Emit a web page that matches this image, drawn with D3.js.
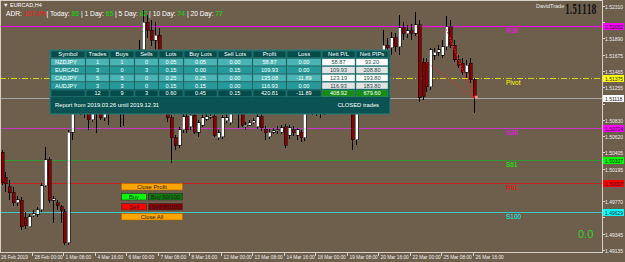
<!DOCTYPE html>
<html><head><meta charset="utf-8">
<script src="https://cdn.jsdelivr.net/npm/d3@7"></script>
<style>
html,body{margin:0;padding:0;background:#6e5e4c;}
svg{display:block;font-family:"Liberation Sans",Arial,sans-serif;}
</style></head><body>
<svg id="chart" width="625" height="262"></svg>
<script>
// EURCAD H4 candles, 26 Feb 16:00 .. 26 Mar 16:00
var opens = [1.5041,1.5008,1.4996,1.4989,1.4975,1.4978,1.4956,1.4944,1.4958,1.4960,
  1.4966,1.4997,1.5031,1.4978,1.4975,1.4970,1.4963,1.4923,1.5067,1.5109,
  1.5115,1.5102,1.5102,1.5083,1.5099,1.5104,1.5086,1.5101,1.5104,1.5112,
  1.5109,1.5099,1.5109,1.5119,1.5135,1.5154,1.5174,1.5210,1.5200,1.5187,
  1.5193,1.5161,1.5115,1.5086,1.5060,1.5050,1.5070,1.5087,1.5074,1.5089,
  1.5067,1.5076,1.5084,1.5087,1.5088,1.5060,1.5061,1.5082,1.5079,1.5096,
  1.5102,1.5102,1.5074,1.5076,1.5079,1.5074,1.5087,1.5071,1.5061,1.5067,
  1.5069,1.5067,1.5074,1.5063,1.5070,1.5063,1.5067,1.5060,1.5099,1.5109,
  1.5112,1.5106,1.5109,1.5112,1.5114,1.5109,1.5117,1.5112,1.5115,1.5109,
  1.5057,1.5109,1.5122,1.5135,1.5148,1.5158,1.5153,1.5166,1.5180,1.5177,
  1.5190,1.5178,1.5203,1.5195,1.5199,1.5196,1.5207,1.5158,1.5158,1.5126,
  1.5167,1.5171,1.5167,1.5178,1.5204,1.5180,1.5161,1.5157,1.5145,1.5157,
  1.5135];
var highs = [1.5044,1.5015,1.5005,1.4995,1.4984,1.4982,1.4963,1.4961,1.4966,1.4970,
  1.5001,1.5048,1.5035,1.4984,1.4979,1.4972,1.4967,1.5070,1.5115,1.5128,
  1.5122,1.5115,1.5109,1.5104,1.5109,1.5109,1.5109,1.5114,1.5119,1.5122,
  1.5115,1.5114,1.5128,1.5141,1.5161,1.5187,1.5226,1.5219,1.5213,1.5210,
  1.5203,1.5167,1.5122,1.5089,1.5063,1.5074,1.5092,1.5093,1.5099,1.5096,
  1.5083,1.5091,1.5093,1.5096,1.5093,1.5070,1.5089,1.5091,1.5102,1.5109,
  1.5112,1.5109,1.5080,1.5083,1.5086,1.5092,1.5092,1.5075,1.5071,1.5073,
  1.5075,1.5076,1.5078,1.5076,1.5075,1.5073,1.5070,1.5109,1.5115,1.5119,
  1.5117,1.5114,1.5115,1.5122,1.5119,1.5125,1.5122,1.5125,1.5122,1.5115,
  1.5115,1.5128,1.5141,1.5158,1.5167,1.5167,1.5174,1.5200,1.5190,1.5197,
  1.5196,1.5219,1.5210,1.5207,1.5208,1.5223,1.5213,1.5164,1.5164,1.5177,
  1.5177,1.5180,1.5187,1.5218,1.5213,1.5187,1.5167,1.5164,1.5161,1.5164,
  1.5138];
var lows = [1.4998,1.4989,1.4979,1.4971,1.4971,1.4940,1.4941,1.4943,1.4956,1.4957,
  1.4963,1.4995,1.4975,1.4949,1.4966,1.4949,1.4920,1.4920,1.5057,1.5093,
  1.5089,1.5086,1.5070,1.5080,1.5066,1.5083,1.5082,1.5076,1.5096,1.5099,
  1.5074,1.5075,1.5101,1.5109,1.5125,1.5148,1.5167,1.5190,1.5179,1.5174,
  1.5154,1.5109,1.5080,1.5027,1.5044,1.5047,1.5066,1.5066,1.5070,1.5065,
  1.5061,1.5074,1.5082,1.5084,1.5061,1.5057,1.5058,1.5079,1.5076,1.5091,
  1.5073,1.5074,1.5070,1.5075,1.5078,1.5071,1.5069,1.5057,1.5058,1.5065,
  1.5065,1.5065,1.5047,1.5058,1.5062,1.5057,1.5054,1.5056,1.5093,1.5089,
  1.5088,1.5086,1.5089,1.5104,1.5101,1.5104,1.5102,1.5101,1.5096,1.5044,
  1.5050,1.5102,1.5115,1.5125,1.5138,1.5141,1.5145,1.5161,1.5167,1.5167,
  1.5171,1.5167,1.5187,1.5190,1.5187,1.5192,1.5106,1.5109,1.5119,1.5122,
  1.5161,1.5166,1.5164,1.5174,1.5177,1.5158,1.5151,1.5141,1.5138,1.5131,
  1.5092];
var closes = [1.5001,1.5000,1.4988,1.4975,1.4979,1.4944,1.4945,1.4957,1.4961,1.4966,
  1.4997,1.5031,1.4978,1.4980,1.4971,1.4965,1.4923,1.5067,1.5109,1.5115,
  1.5102,1.5096,1.5083,1.5099,1.5093,1.5086,1.5101,1.5104,1.5112,1.5109,
  1.5099,1.5109,1.5119,1.5135,1.5154,1.5174,1.5210,1.5200,1.5187,1.5193,
  1.5161,1.5115,1.5086,1.5060,1.5050,1.5070,1.5087,1.5070,1.5089,1.5067,
  1.5079,1.5086,1.5087,1.5088,1.5063,1.5066,1.5086,1.5086,1.5096,1.5102,
  1.5099,1.5076,1.5076,1.5079,1.5082,1.5087,1.5073,1.5066,1.5067,1.5069,
  1.5070,1.5073,1.5050,1.5073,1.5066,1.5070,1.5060,1.5099,1.5109,1.5112,
  1.5106,1.5109,1.5112,1.5114,1.5109,1.5117,1.5112,1.5115,1.5109,1.5057,
  1.5109,1.5122,1.5135,1.5148,1.5158,1.5153,1.5164,1.5180,1.5177,1.5190,
  1.5178,1.5203,1.5195,1.5199,1.5196,1.5207,1.5112,1.5114,1.5126,1.5174,
  1.5171,1.5174,1.5178,1.5204,1.5180,1.5161,1.5154,1.5145,1.5154,1.5135,
  1.51118];

var timeTicks = [0, 8, 16, 24, 32, 40, 48, 56, 64, 72, 80, 88, 96, 104, 112, 120];
var timeLabels = ['26 Feb 2019', '28 Feb 00:00', '1 Mar 08:00', '4 Mar 16:00', '6 Mar 00:00',
  '7 Mar 08:00', '8 Mar 16:00', '12 Mar 00:00', '13 Mar 08:00', '14 Mar 16:00', '18 Mar 00:00',
  '19 Mar 08:00', '20 Mar 16:00', '22 Mar 00:00', '25 Mar 08:00', '26 Mar 16:00'];
var priceTicks = [1.52310, 1.52100, 1.51890, 1.51675, 1.51465, 1.51255, 1.51040, 1.50830,
  1.50620, 1.50405, 1.50195, 1.49980, 1.49770, 1.49560, 1.49345, 1.49135];

var levelNames = ['R38', 'Pivot', 'S38', 'S61', 'R61', 'S100'];
var levelPrices = [1.52052, 1.51375, 1.50724, 1.50307, 1.50007, 1.49629];
var levelColors = ['#ff00ff', '#d8d800', '#c838c8', '#2f9a2f', '#c82020', '#3cc8c8'];
var levelTextColors = ['#ff00ff', '#ffff00', '#ff00ff', '#00ff00', '#ff0000', '#00ffff'];
var bidPrice = 1.51118;

// closed EURCAD sells (entry bar/price -> exit bar/price)
var tradeOpenBars = [108, 113, 114];
var tradeOpenPrices = [1.5158, 1.5201, 1.5190];
var tradeCloseBar = 120;
var tradeClosePrice = 1.51118;

// report table
var tableHeaders = ['Symbol', 'Trades', 'Buys', 'Sells', 'Lots', 'Buy Lots', 'Sell Lots', 'Profit', 'Loss', 'Nett P/L', 'Nett PIPs'];
var symbols = ['NZDJPY', 'EURCAD', 'CADJPY', 'AUDJPY', ''];
var trades = ['1', '3', '5', '3', '12'];
var buys = ['1', '0', '5', '3', '9'];
var sells = ['0', '3', '0', '0', '3'];
var lots = ['0.05', '0.15', '0.25', '0.15', '0.60'];
var buyLots = ['0.05', '0.00', '0.25', '0.15', '0.45'];
var sellLots = ['0.00', '0.15', '0.00', '0.00', '0.15'];
var profit = ['58.87', '109.93', '135.08', '116.93', '420.81'];
var loss = ['0.00', '0.00', '-11.89', '0.00', '-11.89'];
var nettPL = ['58.87', '109.93', '123.19', '116.93', '408.92'];
var nettPips = ['93.20', '208.80', '193.80', '183.80', '679.60'];

var adrParts = [['ADR: ', '#ffffff'], ['107.4%', '#ff2020'], ['| Today: ', '#ffffff'], ['86', '#00e000'],
  [' | 1 Day: ', '#ffffff'], ['65', '#00e000'], [' | 5 Day: ', '#ffffff'], ['82', '#00e000'],
  [' | 10 Day: ', '#ffffff'], ['74', '#00e000'], [' | 20 Day: ', '#ffffff'], ['77', '#00e000']];

var svg = d3.select('#chart');
var W = 625, H = 262, plotR = 602, plotB = 252;

var x = d3.scaleLinear().domain([0, 120]).range([1.5, 473.7]);
var y = d3.scaleLinear().domain([1.52391, 1.49096]).range([0, 253]);

svg.append('rect').attr('width', W).attr('height', H).attr('fill', '#6e5e4c');

// level lines
levelPrices.forEach(function (p, i) {
    var yy = Math.round(y(p)) + 0.5;
    svg.append('line')
        .attr('x1', 0).attr('x2', plotR).attr('y1', yy).attr('y2', yy)
        .attr('stroke', levelColors[i]).attr('stroke-width', 1)
        .attr('stroke-dasharray', levelNames[i] == 'Pivot' ? '6,2,1,2' : null);
    svg.append('text')
        .attr('x', 506).attr('y', yy + 6.5)
        .attr('font-size', 6.5).attr('fill', levelTextColors[i])
        .text(levelNames[i]);
});
var bidY = Math.round(y(bidPrice)) + 0.5;
svg.append('line').attr('x1', 0).attr('x2', plotR).attr('y1', bidY).attr('y2', bidY)
    .attr('stroke', '#a8a8a8').attr('stroke-width', 1);

// candles
var idx = d3.range(opens.length);
var candles = svg.append('g').attr('shape-rendering', 'crispEdges');
candles.selectAll('line.wick')
    .data(idx).enter().append('line')
    .attr('x1', function (i) { return Math.round(x(i)) + 0.5; })
    .attr('x2', function (i) { return Math.round(x(i)) + 0.5; })
    .attr('y1', function (i) { return y(highs[i]); })
    .attr('y2', function (i) { return y(lows[i]); })
    .attr('stroke', '#000');
candles.selectAll('rect.body')
    .data(idx).enter().append('rect')
    .attr('x', function (i) { return Math.round(x(i)) - 1; })
    .attr('y', function (i) { return y(Math.max(opens[i], closes[i])); })
    .attr('width', 3)
    .attr('height', function (i) { return Math.max(1, Math.abs(y(opens[i]) - y(closes[i]))); })
    .attr('fill', function (i) { return closes[i] >= opens[i] ? '#ffffff' : '#8b0000'; })
    .attr('stroke', '#000').attr('stroke-width', 0.5);

// trade lines
tradeOpenBars.forEach(function (b, i) {
    svg.append('line')
        .attr('x1', x(b)).attr('y1', y(tradeOpenPrices[i]))
        .attr('x2', x(tradeCloseBar)).attr('y2', y(tradeClosePrice))
        .attr('stroke', '#ff2020').attr('stroke-width', 0.8).attr('stroke-dasharray', '1.5,1.5');
});
svg.append('rect').attr('x', x(tradeCloseBar) + 1).attr('y', y(tradeClosePrice) - 2)
    .attr('width', 3).attr('height', 3).attr('fill', '#ff9090');

// frame
svg.append('rect').attr('x', 0.5).attr('y', 0.5).attr('width', plotR).attr('height', plotB)
    .attr('fill', 'none').attr('stroke', '#d8d0c4').attr('stroke-width', 1);

// price axis
var tagPrices = levelPrices.concat([bidPrice]);
priceTicks.forEach(function (p) {
    var yy = Math.round(y(p)) + 0.5;
    svg.append('line').attr('x1', plotR).attr('x2', plotR + 3).attr('y1', yy).attr('y2', yy)
        .attr('stroke', '#d8d0c4');
    var hidden = tagPrices.some(function (t) { return Math.abs(y(t) - y(p)) < 6; });
    if (!hidden) {
        svg.append('text').attr('x', 605).attr('y', yy + 2).attr('font-size', 5)
            .attr('fill', '#eeeeee').text(d3.format('.5f')(p));
    }
});
function tag(p, bg, fg) {
    var yy = Math.round(y(p)) + 0.5;
    svg.append('rect').attr('x', 603).attr('y', yy - 3.5).attr('width', 21).attr('height', 7).attr('fill', bg);
    svg.append('text').attr('x', 605).attr('y', yy + 2).attr('font-size', 5).attr('fill', fg)
        .text(d3.format('.5f')(p));
}
levelPrices.forEach(function (p, i) {
    tag(p, levelTextColors[i], '#202020');
});
tag(bidPrice, '#ffffff', '#202020');

// time axis
timeTicks.forEach(function (b, i) {
    var xx = Math.round(x(b)) + 0.5;
    if (i > 0) {
        svg.append('line').attr('x1', xx - 1).attr('x2', xx - 1).attr('y1', plotB).attr('y2', plotB + 4)
            .attr('stroke', '#d8d0c4');
    }
    svg.append('text').attr('x', i == 0 ? 1 : xx + 1).attr('y', 258.5).attr('font-size', 4.8)
        .attr('fill', '#eeeeee').text(timeLabels[i]);
});

// header texts
svg.append('text').attr('x', 3).attr('y', 7).attr('font-size', 5.5).attr('fill', '#ffffff').text('\u25BC EURCAD,H4');
var adr = svg.append('text').attr('x', 6).attr('y', 16).attr('font-size', 6.7);
adrParts.forEach(function (d) { adr.append('tspan').attr('fill', d[1]).text(d[0]); });

svg.append('text').attr('x', 536).attr('y', 8).attr('font-size', 5.5).attr('fill', '#e8e8e8').text('DavidTrade');
svg.append('text').attr('transform', 'translate(565,14) scale(0.58,1)')
    .attr('font-size', 12).attr('font-weight', 'bold').attr('font-family', 'DejaVu Serif')
    .attr('fill', '#111').text(d3.format('.5f')(bidPrice));

svg.append('text').attr('x', 578).attr('y', 238).attr('font-size', 11).attr('fill', '#30d030').text('0.0');

// report table
var colX = [51, 86, 110, 135, 159, 184, 218, 253, 287, 322, 356, 389];
var rowY = [51, 58.8, 66.6, 74.4, 82.2, 90];
var rowH = 6.8;
var cols = [symbols, trades, buys, sells, lots, buyLots, sellLots, profit, loss, nettPL, nettPips];
var tbl = svg.append('g');
tbl.append('rect').attr('x', 50).attr('y', 50).attr('width', 340).attr('height', 64)
    .attr('fill', '#0a5352').attr('stroke', '#2c7b7a').attr('stroke-width', 1);
tableHeaders.forEach(function (h, c) {
    tbl.append('rect').attr('x', colX[c]).attr('y', rowY[0]).attr('width', colX[c + 1] - colX[c] - 1).attr('height', rowH)
        .attr('fill', '#034c4b').attr('stroke', '#3a8a89').attr('stroke-width', 0.5);
    tbl.append('text').attr('x', (colX[c] + colX[c + 1] - 1) / 2).attr('y', rowY[0] + 5.4)
        .attr('text-anchor', 'middle').attr('font-size', 5.8).attr('fill', '#ffffff').text(h);
});
for (var r = 0; r < 5; r++) {
    cols.forEach(function (col, c) {
        var fill, fg = '#ffffff';
        if (r == 4) {
            fill = c >= 9 ? '#168c16' : '#034c4b';
        } else if (c >= 9) {
            fill = r % 2 == 0 ? '#ffffff' : '#e4e4e4';
            fg = '#1e4d4d';
        } else {
            fill = r % 2 == 0 ? '#4ab4b4' : '#26999a';
        }
        tbl.append('rect').attr('x', colX[c]).attr('y', rowY[r + 1]).attr('width', colX[c + 1] - colX[c] - 1).attr('height', rowH)
            .attr('fill', fill).attr('stroke', '#3a8a89').attr('stroke-width', 0.5);
        tbl.append('text')
            .attr('x', c == 0 ? colX[c] + 4 : (colX[c] + colX[c + 1] - 1) / 2)
            .attr('y', rowY[r + 1] + 5.4)
            .attr('text-anchor', c == 0 ? 'start' : 'middle')
            .attr('font-size', 5.6).attr('fill', fg).text(col[r]);
    });
}
tbl.append('text').attr('x', 55).attr('y', 107).attr('font-size', 5.8).attr('fill', '#ffffff')
    .text('Report from 2019.03.26 until 2019.12.31');
tbl.append('text').attr('x', 379).attr('y', 107).attr('text-anchor', 'end').attr('font-size', 5.8).attr('fill', '#ffffff')
    .text('CLOSED trades');

// buttons
var btnLabels = ['Close Profit', 'Buy', 'Buy 50/100', 'Sell', 'Sell 50/100', 'Close All'];
var btnColors = ['#ffa500', '#00ff00', '#0a7a0a', '#ff0000', '#8a0000', '#ffa500'];
var btnX = [121, 121, 148, 121, 148, 121];
var btnY = [183, 193, 193, 203, 203, 213];
var btnW = [61, 25, 34, 25, 34, 61];
btnLabels.forEach(function (b, i) {
    svg.append('rect').attr('x', btnX[i] + 0.5).attr('y', btnY[i] + 0.5).attr('width', btnW[i]).attr('height', 6.5)
        .attr('fill', btnColors[i]).attr('stroke', i == 0 || i == 5 ? '#b06800' : '#303030').attr('stroke-width', 0.6);
    svg.append('text').attr('x', btnX[i] + 0.5 + btnW[i] / 2).attr('y', btnY[i] + 5.6).attr('text-anchor', 'middle')
        .attr('font-size', 5.8).attr('fill', '#202020').text(b);
});
</script></body></html>
